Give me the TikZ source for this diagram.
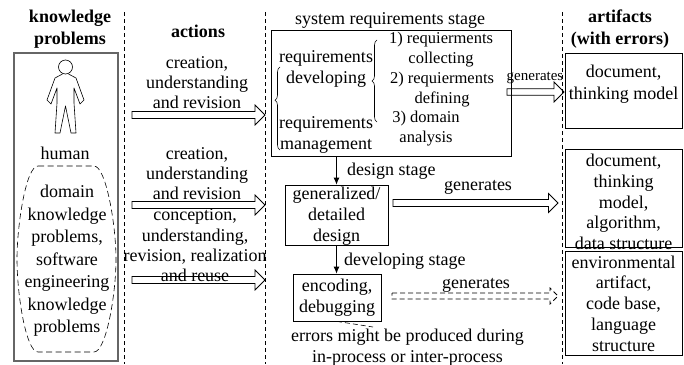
\documentclass[tikz,border=0pt]{standalone}
\usepackage{fontspec}
\setmainfont{Liberation Serif}
\usetikzlibrary{arrows.meta,decorations.pathreplacing,calc}
% hollow block arrow: [style]{start}{end}{shaft half width}{head half width}
\newcommand{\blockarrow}[5][]{%
  \draw[#1] let \p1=(#2), \p2=(#3) in
    (\x1,\y1+#4) -- (\x2-#5,\y1+#4) -- (\x2-#5,\y1+#5) -- (\x2,\y1)
    -- (\x2-#5,\y1-#5) -- (\x2-#5,\y1-#4) -- (\x1,\y1-#4) -- cycle;}
\tikzset{
  txt/.style={font=\fontsize{18}{21}\selectfont, align=center, inner sep=0pt},
  ttl/.style={font=\fontsize{18}{22}\selectfont\bfseries, align=center, inner sep=0pt},
  colline/.style={dash pattern=on 4pt off 3pt, line width=0.7pt},
  stagebox/.style={draw, line width=0.8pt, inner sep=0pt},
  downarrow/.style={-{Latex[length=7pt,width=6pt]}, line width=0.8pt},
  blockline/.style={line width=0.8pt, line join=miter},
}
\begin{document}
\begin{tikzpicture}[x=1pt,y=-1pt]
\useasboundingbox (0,0) rectangle (684,364);

% column separators
\coordinate (c1t) at (124,12); \coordinate (c1b) at (124,364);
\coordinate (c2t) at (265,12); \coordinate (c2b) at (265,364);
\coordinate (c3t) at (562,12); \coordinate (c3b) at (562,364);
\draw[colline] (c1t) -- (c1b);
\draw[colline] (c2t) -- (c2b);
\draw[colline] (c3t) -- (c3b);

% ---------- knowledge problems column ----------
\node[ttl] (kptitle) at (70,29) {knowledge\\problems};
\node[draw=gray!80!black, line width=1.4pt, minimum width=104pt, minimum height=308pt, inner sep=0pt] (kpbox) at (66,207) {};
% person icon
\draw[line width=0.6pt] (65.5,67) circle[radius=7pt];
\draw[line width=0.6pt, line join=round]
  (62.5,74) -- (55,78) -- (47,100) -- (51,104) -- (57,88) -- (57,103) -- (55,133)
  -- (60,133) -- (65.5,106) -- (71,133) -- (76,133) -- (74,103) -- (74,88)
  -- (80,104) -- (84,100) -- (76,78) -- (68.5,74);
\node[txt] (human) at (65,153) {human};
\draw[dash pattern=on 6pt off 3.5pt, line width=0.6pt]
  (38,166) -- (94,166) .. controls (106,166) and (116,225) .. (116,259)
  .. controls (116,295) and (106,352) .. (94,352) -- (38,352)
  .. controls (26,352) and (17,295) .. (17,259)
  .. controls (17,225) and (26,166) .. (38,166);
\node[txt, font=\fontsize{18}{22.5}\selectfont] (kptext) at (67,261)
  {domain\\knowledge\\problems,\\software\\engineering\\knowledge\\problems};

% ---------- actions column ----------
\node[ttl] (acttitle) at (198,31) {actions};
\node[txt, font=\fontsize{18}{20}\selectfont] (act1) at (197,83) {creation,\\understanding\\and revision};
\node[txt, font=\fontsize{18}{20}\selectfont] (act2) at (197,174) {creation,\\understanding\\and revision};
\node[txt, font=\fontsize{18}{20.3}\selectfont] (act3) at (195,245.5) {conception,\\understanding,\\revision, realization\\and reuse};
\coordinate (a1s) at (132,115); \coordinate (a1e) at (265,115);
\coordinate (a2s) at (132,205); \coordinate (a2e) at (265,205);
\coordinate (a3s) at (132,280); \coordinate (a3e) at (265,280);
\blockarrow[blockline]{a1s}{a1e}{3.5pt}{10pt}
\blockarrow[blockline]{a2s}{a2e}{3.5pt}{10pt}
\blockarrow[blockline]{a3s}{a3e}{3.5pt}{10pt}

% ---------- stages column ----------
\node[txt] (systitle) at (390,20) {system requirements stage};
\node[stagebox, minimum width=240pt, minimum height=126pt] (sys) at (391,93) {};
\node[txt, font=\fontsize{18}{21}\selectfont] (reqdev) at (326,69) {requirements\\developing};
\node[txt, font=\fontsize{18}{21}\selectfont] (reqman) at (326,134.5) {requirements\\management};
\node[txt, font=\fontsize{16.5}{20}\selectfont] (st1) at (441,50) {1) requierments\\collecting};
\node[txt, font=\fontsize{16.5}{20}\selectfont] (st2) at (442,90) {2) requierments\\defining};
\node[txt, font=\fontsize{16.5}{20}\selectfont] (st3) at (426,129) {3) domain\\analysis};
\coordinate (lbb) at (280,150); \coordinate (lbt) at (280,67);
\coordinate (rbb) at (377,122); \coordinate (rbt) at (377,40);
\draw[decorate, decoration={brace, amplitude=5pt, aspect=0.6}, line width=0.6pt] (lbb) -- (lbt);
\draw[decorate, decoration={brace, amplitude=5pt, aspect=0.5}, line width=0.6pt] (rbb) -- (rbt);

\node[stagebox, minimum width=103pt, minimum height=60pt] (design) at (336.5,215) {};
\node[txt] (designtxt) at (336.5,216) {generalized/\\detailed\\design};
\node[stagebox, minimum width=88pt, minimum height=47pt] (enc) at (337,297.5) {};
\node[txt] (enctxt) at (337,297.5) {encoding,\\debugging};

\draw[downarrow] (design.north |- sys.south) -- (design.north);
\node[txt, anchor=west] (dslabel) at (347,171) {design stage};
\draw[downarrow] (design.south) -- (design.south |- enc.north);
\node[txt, anchor=west] (devlabel) at (344,261) {developing stage};

\coordinate (errpt) at (373,327);
\draw[dash pattern=on 5pt off 3pt, line width=0.6pt] (enc.south) -- (errpt);
\node[txt] (errtxt) at (407.5,347.5) {errors might be produced during\\in-process or inter-process};

% generates arrows
\coordinate (g1s) at (507,92); \coordinate (g1e) at (564,92);
\coordinate (g2s) at (393,203); \coordinate (g2e) at (558,203);
\coordinate (g3s) at (392,296); \coordinate (g3e) at (558,296);
\node[txt, font=\fontsize{15}{18}\selectfont] (gen1) at (535,78) {generates};
\node[txt] (gen2) at (478,187) {generates};
\node[txt] (gen3) at (476,285) {generates};
\blockarrow[blockline]{g1s}{g1e}{3.3pt}{10pt}
\blockarrow[blockline]{g2s}{g2e}{3.5pt}{9.5pt}
\blockarrow[blockline, dash pattern=on 5pt off 3pt]{g3s}{g3e}{3pt}{8pt}

% ---------- artifacts column ----------
\node[ttl] (arttitle) at (620,29) {artifacts\\(with errors)};
\node[stagebox, minimum width=117pt, minimum height=75pt] (art1) at (623.5,90.5) {};
\node[txt, font=\fontsize{18}{22}\selectfont] (art1txt) at (623.5,84) {document,\\thinking model};
\node[stagebox, minimum width=117pt, minimum height=98pt] (art2) at (623.5,198) {};
\node[txt, font=\fontsize{18}{20.7}\selectfont] (art2txt) at (623.5,202) {document,\\thinking\\model,\\algorithm,\\data structure};
\node[stagebox, minimum width=117pt, minimum height=104pt] (art3) at (623.5,303) {};
\node[txt, font=\fontsize{18}{20.8}\selectfont] (art3txt) at (623.5,303.5) {environmental\\artifact,\\code base,\\language\\structure};
\end{tikzpicture}
\end{document}
